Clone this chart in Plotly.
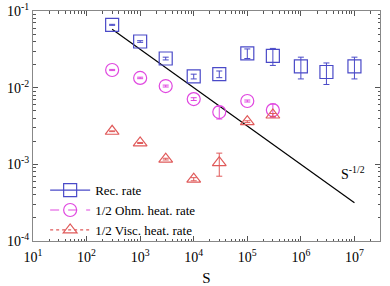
import plotly.graph_objects as go

S = [3e2, 1e3, 3e3, 1e4, 3e4, 1e5, 3e5, 1e6, 3e6, 1e7]
rec = [0.066, 0.040, 0.024, 0.014, 0.015, 0.028, 0.026, 0.019, 0.016, 0.019]
rec_err = [0.001, 0.001, 0.001, 0.001, 0.0015, 0.004, 0.0065, 0.006, 0.005, 0.006]
S_ohm = [3e2, 1e3, 3e3, 1e4, 3e4, 1e5, 3e5]
ohm = [0.017, 0.0134, 0.0105, 0.0071, 0.0048, 0.0067, 0.0051]
ohm_err = [0.0003, 0.0003, 0.0003, 0.0003, 0.0009, 0.0002, 0.0010]
S_visc = [3e2, 1e3, 3e3, 1e4, 3e4, 1e5, 3e5]
visc = [0.0027, 0.0019, 0.00117, 0.00064, 0.00105, 0.0036, 0.0044]
visc_err = [0.00003, 0.00003, 0.00003, 0.00003, 0.00035, 0.0001, 0.0002]
S_line = [3e2, 1e7]
line_y = [s ** -0.5 for s in S_line]

x_exps = [1, 2, 3, 4, 5, 6, 7]
y_exps = [-4, -3, -2, -1]

blue = "#4a4ac8"
mag = "#e048e0"
red = "#e05a5a"
font = "Liberation Serif"

fig = go.Figure()
fig.add_trace(go.Scatter(x=S_line, y=line_y, mode="lines", line=dict(color="black", width=1.2), showlegend=False))

def add(xs, ys, err, color, sym, dash, name, size):
    fig.add_trace(go.Scatter(x=xs, y=ys, mode="markers",
                             marker=dict(symbol=sym, size=size, color=color, line=dict(color=color, width=1.2)),
                             error_y=dict(type="data", array=err, color=color, thickness=1, width=3),
                             showlegend=False))
    fig.add_trace(go.Scatter(x=[None], y=[None], mode="lines+markers", name=name,
                             marker=dict(symbol=sym, size=size, color=color, line=dict(color=color, width=1.2)),
                             line=dict(color=color, width=1.2, dash=dash)))

add(S, rec, rec_err, blue, "square-open", "solid", "Rec. rate", 13)
add(S_ohm, ohm, ohm_err, mag, "circle-open", "dash", "1/2 Ohm. heat. rate", 13)
add(S_visc, visc, visc_err, red, "triangle-up-open", "dot", "1/2 Visc. heat. rate", 12)

def minor_vals(exps):
    out = []
    for e in exps[:-1]:
        for m in range(2, 10):
            out.append(m * 10.0 ** e)
    return out

def axis(exps):
    return dict(type="log", showgrid=False, ticks="inside", ticklen=5, mirror="allticks",
                showline=True, linecolor="#888", linewidth=1, tickcolor="#555",
                automargin=False,
                tickmode="array", tickvals=[10.0 ** e for e in exps],
                ticktext=["10<sup>%d</sup>" % e for e in exps], zeroline=False,
                tickfont=dict(family=font, size=14, color="black"),
                minor=dict(ticks="inside", ticklen=2.5, tickcolor="#555", showgrid=False,
                           tickmode="array", tickvals=minor_vals(exps + [exps[-1] + 1])))

fig.update_layout(
    width=390, height=286,
    margin=dict(l=33, r=10, t=11, b=45),
    paper_bgcolor="white", plot_bgcolor="white",
    font=dict(family=font, size=13, color="black"),
    xaxis=dict(range=[1, 7.477], ticklabelstandoff=3,
               title=dict(text="S", font=dict(family=font, size=15), standoff=9), **axis(x_exps)),
    yaxis=dict(range=[-4, -1], ticklabelstandoff=0, **axis(y_exps)),
    legend=dict(x=0.035, y=-0.018, xanchor="left", yanchor="bottom", bgcolor="rgba(0,0,0,0)",
                font=dict(family=font, size=13), tracegroupgap=0, itemwidth=40),
    annotations=[dict(x=6.98, y=-3.11, xref="x", yref="y", text="S<sup>-1/2</sup>", showarrow=False,
                      font=dict(family=font, size=14))],
)
fig.write_html("out.html", config={"displayModeBar": False},
               post_script="document.body.style.margin='0';")
